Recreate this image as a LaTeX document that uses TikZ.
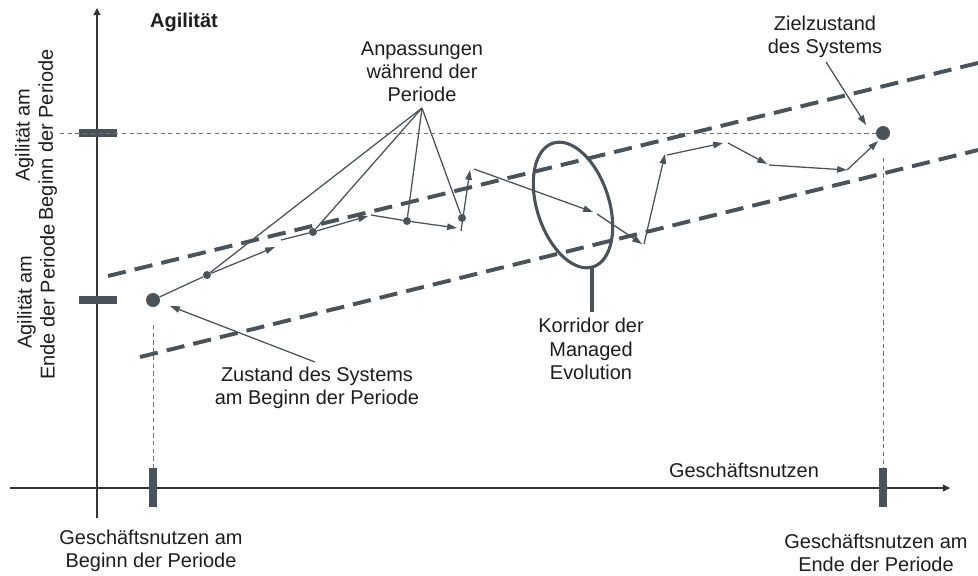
\documentclass[tikz,border=0pt]{standalone}
\usepackage{fontspec}
\setmainfont{Liberation Sans}
\usetikzlibrary{arrows.meta}
\definecolor{slate}{RGB}{74,82,90}
\definecolor{ink}{RGB}{30,30,30}

\begin{document}
\begin{tikzpicture}[x=0.025cm, y=-0.025cm,
    every node/.style={font=\fontsize{14.2}{16.5}\selectfont, text=ink, align=center, inner sep=0pt},
    axis/.style={ink!90, line width=0.95pt, -{Triangle[length=5pt,width=5pt]}},
    bar/.style={slate, line width=5pt},
    guide/.style={black!55, line width=0.7pt, dash pattern=on 3pt off 2.5pt},
    corridor/.style={slate, line width=2.8pt, dash pattern=on 13pt off 6.5pt},
    move/.style={slate, line width=0.9pt, -{Triangle[length=7pt,width=4.6pt]}},
    hop/.style={slate, line width=0.9pt},
    bigdot/.style={circle, fill=slate, minimum size=0.35cm},
    smalldot/.style={circle, fill=slate, minimum size=0.2cm}]
  \fill[white] (0,0) rectangle (978,575);
  \useasboundingbox (0,0) rectangle (978,575);

  \begin{scope}
    \coordinate (yb) at (97,518);
    \coordinate (yt) at (97,8);
    \coordinate (xl) at (10,488);
    \coordinate (xr) at (950,488);
    \draw[axis] (yb) -- (yt);
    \draw[axis] (xl) -- (xr);
    \draw[bar] (79,133) -- (117,133);
    \draw[bar] (79,300) -- (117,300);
    \draw[bar] (153,468) -- (153,507);
    \draw[bar] (883,468) -- (883,507);
  \end{scope}

  \begin{scope}
    \draw[corridor] (108,276) -- (978,63);
    \draw[corridor] (140,357) -- (978,150);
  \end{scope}

  \node[bigdot] (s0) at (153,300) {};
  \node[smalldot] (s1) at (207,275) {};
  \node[smalldot] (s2) at (313,232) {};
  \node[smalldot] (s3) at (407,221) {};
  \node[smalldot] (s4) at (462,218) {};
  \node[bigdot] (s5) at (883,133) {};

  \begin{scope}
    \coordinate (g0) at (60,133);
    \coordinate (g1) at (153,325);
    \coordinate (g2) at (153,468);
    \coordinate (g3) at (883,158);
    \coordinate (g4) at (883,468);
    \draw[guide] (g0) -- (s5);
    \draw[guide] (g1) -- (g2);
    \draw[guide] (g3) -- (g4);
  \end{scope}

  \begin{scope}
    \coordinate (a1) at (275,247);
    \coordinate (b1) at (281,240);
    \coordinate (a2) at (368,216);
    \coordinate (b2) at (371,215);
    \coordinate (a3) at (457,228);
    \coordinate (b3) at (461,231);
    \coordinate (a4) at (470,170);
    \coordinate (b4) at (474,169);
    \coordinate (a5) at (593,212);
    \coordinate (b5) at (597,214);
    \coordinate (a6) at (642,244);
    \coordinate (b6) at (644,244);
    \coordinate (a7) at (665,154);
    \coordinate (b7) at (667,155);
    \coordinate (a8) at (723,143);
    \coordinate (b8) at (728,143);
    \coordinate (a9) at (767,164);
    \coordinate (b9) at (769,165);
    \coordinate (a10) at (847,170);
    \coordinate (a11) at (878,141);
    \draw[hop] (s0) -- (s1);
    \draw[move] (s1) -- (a1);
    \draw[hop] (b1) -- (s2);
    \draw[move] (s2) -- (a2);
    \draw[hop] (b2) -- (s3);
    \draw[move] (s3) -- (a3);
    \draw[move] (b3) -- (a4);
    \draw[move] (b4) -- (a5);
    \draw[move] (b5) -- (a6);
    \draw[move] (b6) -- (a7);
    \draw[move] (b7) -- (a8);
    \draw[move] (b8) -- (a9);
    \draw[move] (b9) -- (a10);
    \draw[move] (a10) -- (a11);
  \end{scope}

  \node (agil) at (184,22) {\bfseries Agilität};
  \node[rotate=90] (ab) at (36,135) {Agilität am\\Beginn der Periode};
  \node[rotate=90] (ae) at (36,302) {Agilität am\\Ende der Periode};
  \node (anp) at (422,72) {Anpassungen\\während der\\Periode};
  \node (ziel) at (825,37) {Zielzustand\\des Systems};
  \node (zust) at (317,388) {Zustand des Systems\\am Beginn der Periode};
  \node (korr) at (591,349) {Korridor der\\Managed\\Evolution};
  \node (gn) at (744,470) {Geschäftsnutzen};
  \node (gb) at (151,551) {Geschäftsnutzen am\\Beginn der Periode};
  \node (ge) at (876,553) {Geschäftsnutzen am\\Ende der Periode};

  \begin{scope}
    \coordinate (p0) at (422,108);
    \draw[hop] (p0) -- (s1);
    \draw[hop] (p0) -- (s2);
    \draw[hop] (p0) -- (s3);
    \draw[hop] (p0) -- (s4);
    \coordinate (z1) at (826,62);
    \coordinate (z2) at (866,125);
    \draw[move] (z1) -- (z2);
    \coordinate (z3) at (315,362);
    \coordinate (z4) at (170,306);
    \draw[move] (z3) -- (z4);
  \end{scope}

  \begin{scope}[slate, line width=2.2pt]
    \draw[rotate around={18:(573,205)}] (573,205) ellipse [x radius=0.9cm, y radius=1.625cm];
    \coordinate (k1) at (592,267);
    \coordinate (k2) at (592,312);
    \draw (k1) -- (k2);
  \end{scope}
\end{tikzpicture}
\end{document}
